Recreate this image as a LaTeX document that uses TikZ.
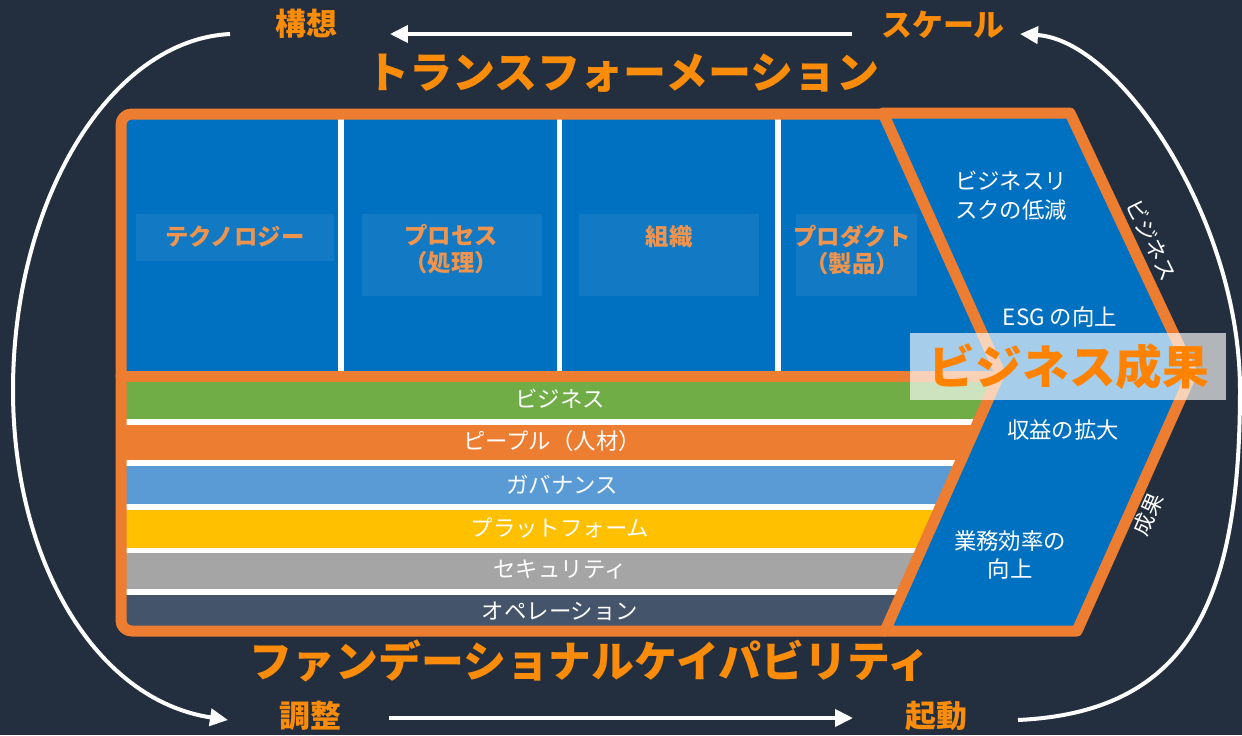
\documentclass[tikz,border=0pt]{standalone}
\usepackage{fontspec}
\newfontfamily\jp{Noto Sans CJK JP}
\usetikzlibrary{arrows.meta}
\definecolor{bgnavy}{RGB}{35,47,62}
\definecolor{ttlorange}{RGB}{250,140,10}
\definecolor{frameorange}{RGB}{237,125,49}
\definecolor{colblue}{RGB}{0,112,192}
\definecolor{lblorange}{RGB}{238,148,78}
\definecolor{bgreen}{RGB}{112,173,71}
\definecolor{borange}{RGB}{237,125,49}
\definecolor{bblue}{RGB}{91,155,213}
\definecolor{byellow}{RGB}{255,192,0}
\definecolor{bgray}{RGB}{165,165,165}
\definecolor{bslate}{RGB}{68,84,106}
\definecolor{bigorange}{RGB}{255,130,0}
\tikzset{
  cycleline/.style={white, line width=4*0.02cm, -{Triangle[length=0.36cm,width=0.34cm]}},
  steplabel/.style={text=ttlorange, font=\jp\bfseries\fontsize{17.6pt}{20pt}\selectfont, inner sep=0},
  bigtitle/.style={text=ttlorange, font=\jp\bfseries\fontsize{24.5pt}{28pt}\selectfont, inner sep=0},
  framepath/.style={frameorange, line width=11*0.02cm, line join=round, line cap=round},
  sepline/.style={white, line width=5.5*0.02cm},
  colbox/.style={fill=white, fill opacity=0.07},
  collabel/.style={text=lblorange, font=\jp\bfseries\fontsize{13.3pt}{15.4pt}\selectfont, align=center, inner sep=0},
  bandlabel/.style={text=white, font=\jp\fontsize{12.75pt}{15pt}\selectfont, inner sep=0},
  chevlabel/.style={text=white, font=\jp\fontsize{12.75pt}{16.4pt}\selectfont, align=center, inner sep=0},
  sidelabel/.style={text=white, font=\jp\fontsize{12.3pt}{14pt}\selectfont, inner sep=0},
}
\begin{document}
\begin{tikzpicture}[x=0.02cm,y=-0.02cm]
\fill[bgnavy] (0,0) rectangle (1242,735);
\useasboundingbox (0,0) rectangle (1242,735);

% top box fill
\fill[colblue] (121,114) rectangle (1005,376);
\draw[sepline] (341,118) -- (341,372);
\draw[sepline] (559.5,118) -- (559.5,372);
\draw[sepline] (778,118) -- (778,372);
\fill[colbox] (136,214) rectangle (334,261);
\fill[colbox] (362,214) rectangle (542,296);
\fill[colbox] (579,214) rectangle (759,296);
\fill[colbox] (796,214) rectangle (917,296);

% bands
\fill[white] (121,376) rectangle (1005,631);
\fill[bgreen] (121,376) rectangle (1005,419);
\fill[borange] (121,425) rectangle (1005,460);
\fill[bblue] (121,466) rectangle (1005,504);
\fill[byellow] (121,510) rectangle (1005,548);
\fill[bgray] (121,553) rectangle (1005,589);
\fill[bslate] (121,595) rectangle (1005,631);

% frame
\draw[framepath, rounded corners=6] (885,114) -- (121,114) -- (121,631) -- (885,631);
\draw[framepath] (121,376) -- (1000,376);

% chevron
\draw[framepath, fill=colblue] (883,113) -- (1070,113) -- (1192,373) -- (1077,631) -- (885,631) -- (1000,373) -- cycle;

% column labels
\node[collabel] (tech) at (235,237) {テクノロジー};
\node[collabel] (proc) at (451,249.5) {プロセス\\（処理）};
\node[collabel] (org) at (669,237) {組織};
\node[collabel] (prod) at (852,249.5) {プロダクト\\（製品）};

% band labels
\node[bandlabel] (bbiz) at (560,399) {ビジネス};
\node[bandlabel] (bppl) at (552,441) {ピープル（人材）};
\node[bandlabel] (bgov) at (562,485) {ガバナンス};
\node[bandlabel] (bplat) at (560,528) {プラットフォーム};
\node[bandlabel] (bsec) at (560,570) {セキュリティ};
\node[bandlabel] (bops) at (560,611) {オペレーション};

% chevron labels
\node[chevlabel] (risk) at (1011,196) {ビジネスリ\\スクの低減};
\node[chevlabel] (esg) at (1060,317) {ESG の向上};
\node[chevlabel] (rev) at (1063,430) {収益の拡大};
\node[chevlabel] (eff) at (1010,555) {業務効率の\\向上};

% side labels
\node[sidelabel, rotate=-64] (sbiz) at (1152,240) {ビジネス};
\node[sidelabel, rotate=66] (sres) at (1148,514) {成果};

% big label
\fill[white, fill opacity=0.65] (910,333) rectangle (1226,400);
\node[text=bigorange, font=\jp\bfseries\fontsize{26.6pt}{30pt}\selectfont, inner sep=0] (outcome) at (1069,367) {ビジネス成果};

% titles
\node[bigtitle] (trans) at (623,73) {トランスフォーメーション};
\node[text=ttlorange, font=\jp\bfseries\fontsize{24.4pt}{28pt}\selectfont, inner sep=0] (found) at (590,661) {ファンデーショナルケイパビリティ};

% cycle step labels
\node[steplabel] (envision) at (306,24) {構想};
\node[steplabel] (scale) at (943,25) {スケール};
\node[steplabel] (align) at (310,716) {調整};
\node[steplabel] (launch) at (936,716) {起動};

% cycle connectors
\coordinate (topR) at (852,34);
\coordinate (topL) at (390,34);
\coordinate (botL) at (389,718);
\coordinate (botR) at (853,718);
\coordinate (lArcS) at (230,34);
\coordinate (lArcE) at (228,720);
\coordinate (rArcS) at (1018,720);
\coordinate (rArcE) at (1020,34);
\draw[cycleline] (topR) -- (topL);
\draw[cycleline] (botL) -- (botR);
\draw[cycleline] (lArcS) .. controls (110,40) and (13,200) .. (13,390) .. controls (13,560) and (95,700) .. (lArcE);
\draw[cycleline] (rArcS) .. controls (1190,712) and (1240,600) .. (1240,390) .. controls (1240,220) and (1120,40) .. (rArcE);
\end{tikzpicture}
\end{document}
